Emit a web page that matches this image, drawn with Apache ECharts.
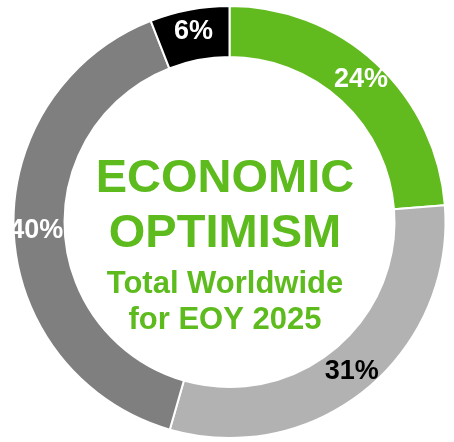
<!DOCTYPE html>
<html><head><meta charset="utf-8">
<script src="https://cdn.jsdelivr.net/npm/echarts@6/dist/echarts.min.js"></script>
<style>html,body{margin:0;padding:0;background:#fff}#c{width:454px;height:442px}</style>
</head><body><div id="c"></div>
<script>
const categories = ['Green', 'Light gray', 'Dark gray', 'Black'];
const values = [24, 31, 40, 6];
const colors = ['#62BB1E', '#B2B2B2', '#7F7F7F', '#000000'];
const labelColors = ['#ffffff', '#000000', '#ffffff', '#ffffff'];
const centerLines = ['ECONOMIC', 'OPTIMISM', 'Total Worldwide', 'for EOY 2025'];

const chart = echarts.init(document.getElementById('c'));
const font = 'Liberation Sans, Arial, sans-serif';
const cx = 225;
chart.setOption({
  animation: false,
  series: [{
    type: 'pie',
    center: [229.5, 222],
    radius: [165, 216],
    startAngle: 90,
    clockwise: true,
    avoidLabelOverlap: false,
    itemStyle: { borderColor: '#ffffff', borderWidth: 2 },
    label: {
      show: true,
      position: 'inside',
      fontFamily: font,
      fontWeight: 'bold',
      fontSize: 27,
      formatter: p => p.value + '%'
    },
    labelLine: { show: false },
    data: categories.map((n, i) => ({
      name: n, value: values[i],
      itemStyle: { color: colors[i] },
      label: { color: labelColors[i] }
    }))
  }],
  graphic: [
    { type: 'text', x: cx, y: 179, style: { text: centerLines[0], fill: '#5DBB1E', font: 'bold 47px ' + font, textAlign: 'center', textVerticalAlign: 'middle' } },
    { type: 'text', x: cx, y: 234, style: { text: centerLines[1], fill: '#5DBB1E', font: 'bold 47px ' + font, textAlign: 'center', textVerticalAlign: 'middle' } },
    { type: 'text', x: cx, y: 284, style: { text: centerLines[2], fill: '#5DBB1E', font: 'bold 31px ' + font, textAlign: 'center', textVerticalAlign: 'middle' } },
    { type: 'text', x: cx, y: 320, style: { text: centerLines[3], fill: '#5DBB1E', font: 'bold 31px ' + font, textAlign: 'center', textVerticalAlign: 'middle' } }
  ]
});
</script></body></html>
